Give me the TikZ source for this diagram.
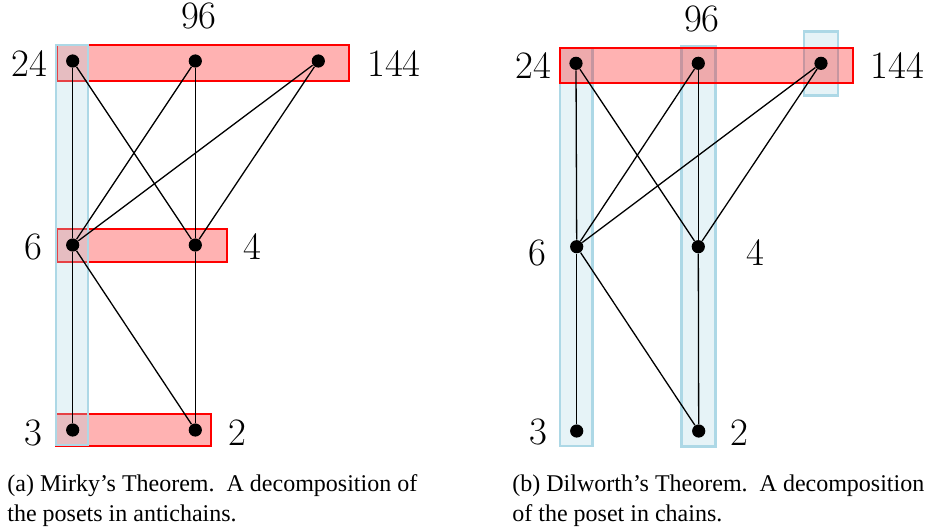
\documentclass[tikz,border=0pt]{standalone}
\usepackage{fontspec}
\newfontfamily\capfont{Liberation Serif}
\usepackage{tikz}
\usetikzlibrary{positioning}
\definecolor{chainblue}{RGB}{173,216,230}

\begin{document}
\begin{tikzpicture}[x=0.5pt, y=-0.5pt,
        dot/.style={circle, fill=black, inner sep=0pt, minimum size=6.6pt},
        num/.style={inner sep=0pt, font=\fontsize{19.4}{23}\selectfont},
        antichain/.style={draw=red, line width=1pt, fill=red, fill opacity=0.3},
        chain/.style={draw=chainblue, line width=1.3pt, fill=chainblue, fill opacity=0.3},
        edge/.style={line width=0.65pt},
        caption/.style={anchor=base west, inner sep=0pt, align=left, font=\capfont\fontsize{12}{15}\selectfont}
        ]
        \useasboundingbox (0,0) rectangle (928,527);

        % (a) antichains
        \draw[antichain] (57,45) rectangle (349,81);
        \draw[antichain] (57,229) rectangle (227,262);
        \draw[antichain] (56,414) rectangle (211,446);
        \draw[chain] (56,45) rectangle (88,445);

        \node [dot] (a24) at (72.7,61) {};
        \node [dot] (a96) at (195.3,61) {};
        \node [dot] (a144) at (318.3,61) {};
        \node [dot] (a6) at (72.7,245) {};
        \node [dot] (a4) at (195.3,245) {};
        \node [dot] (a3) at (72.7,430) {};
        \node [dot] (a2) at (195.3,430) {};

        \node [num, left=8.9pt of a24, yshift=-1.5pt] (la24) {24};
        \node [num, above=12.2pt of a96, xshift=1.8pt] (la96) {96};
        \node [num, right=20.8pt of a144, yshift=-1.5pt] (la144) {144};
        \node [num, left=11.3pt of a6, yshift=-1pt] (la6) {6};
        \node [num, right=20.3pt of a4, yshift=-1pt] (la4) {4};
        \node [num, left=11.3pt of a3, yshift=-1.5pt] (la3) {3};
        \node [num, right=12.8pt of a2, yshift=-1.5pt] (la2) {2};

        \draw[edge] (a24) -- (a6);
        \draw[edge] (a6) -- (a3);
        \draw[edge] (a24) -- (a4);
        \draw[edge] (a96) -- (a6);
        \draw[edge] (a96) -- (a4);
        \draw[edge] (a144) -- (a6);
        \draw[edge] (a144) -- (a4);
        \draw[edge] (a6) -- (a2);
        \draw[edge] (a4) -- (a2);

        \node [caption] (capa) at (7,521.7) {(a) Mirky’s Theorem.\ \ A decomposition of\\the posets in antichains.};

        % (b) chains
        \draw[chain] (560,48) rectangle (592.3,446);
        \draw[chain] (681.7,46.7) rectangle (715.7,446.7);
        \draw[chain] (804,31.7) rectangle (838,95.7);
        \draw[antichain] (560,48.3) rectangle (852.7,83.3);

        \node [dot] (b24) at (576,63.3) {};
        \node [dot] (b96) at (698.3,63.3) {};
        \node [dot] (b144) at (821,63.3) {};
        \node [dot] (b6) at (576.7,246.7) {};
        \node [dot] (b4) at (698.3,246.7) {};
        \node [dot] (b3) at (576.7,431) {};
        \node [dot] (b2) at (698.7,431) {};

        \node [num, left=8.5pt of b24, yshift=-1.3pt] (lb24) {24};
        \node [num, above=11.7pt of b96, xshift=1.8pt] (lb96) {96};
        \node [num, right=21.2pt of b144, yshift=-1.3pt] (lb144) {144};
        \node [num, left=11.3pt of b6, yshift=-3pt] (lb6) {6};
        \node [num, right=20.3pt of b4, yshift=-3pt] (lb4) {4};
        \node [num, left=10.8pt of b3, yshift=-0.5pt] (lb3) {3};
        \node [num, right=12.2pt of b2, yshift=-1pt] (lb2) {2};

        \draw[edge] (b24) -- (b6);
        \draw[edge] (b6) -- (b3);
        \draw[edge] (b24) -- (b4);
        \draw[edge] (b96) -- (b6);
        \draw[edge] (b96) -- (b4);
        \draw[edge] (b144) -- (b6);
        \draw[edge] (b144) -- (b4);
        \draw[edge] (b6) -- (b2);
        \draw[edge] (b4) -- (b2);

        \node [caption] (capb) at (512,521.7) {(b) Dilworth’s Theorem.\ \ A decomposition\\of the poset in chains.};

    \end{tikzpicture}
\end{document}
